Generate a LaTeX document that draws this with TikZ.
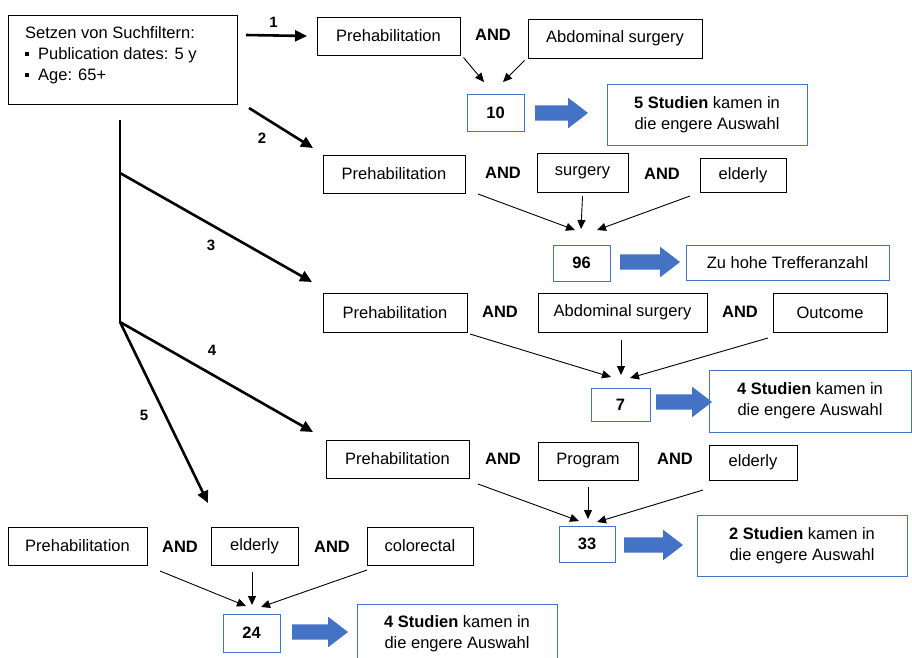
\documentclass[tikz,border=0pt]{standalone}
\usepackage{fontspec}
\setmainfont{Liberation Sans}
\usetikzlibrary{arrows.meta,shapes.arrows}
\definecolor{bl}{HTML}{4472C4}
\begin{document}
\begin{tikzpicture}[x=1pt,y=-1pt,
  every node/.style={font=\fontsize{16.5}{21}\selectfont, inner sep=0pt},
  tbox/.style={draw=black, line width=1pt},
  nbox/.style={draw=bl, line width=1pt, font=\fontsize{16.5}{21}\selectfont\bfseries},
  rbox/.style={draw=bl, line width=1pt, align=center},
  andlab/.style={font=\fontsize{16.5}{21}\selectfont\bfseries},
  numlab/.style={font=\fontsize{15}{18}\selectfont\bfseries},
  thin/.style={line width=0.9pt, -{Triangle[length=9pt,width=8pt]}},
  thick/.style={line width=2.6pt, -{Triangle[length=12pt,width=11pt]}},
  barrow/.style={single arrow, fill=bl, draw=none, inner xsep=0pt, inner ysep=7.5pt,
    minimum width=30pt, single arrow head extend=7.5pt, single arrow tip angle=75,
    shape border rotate=0}
]
\useasboundingbox (0,0) rectangle (912,657);
\fill[white] (0,0) rectangle (912,657);

% filter box
\node[tbox, minimum width=229pt, minimum height=89pt] (filt) at (122.5,59.5) {};
\node[anchor=north west, align=left] (filttxt) at (25,26) {Setzen von Suchfiltern:\\
\raisebox{3pt}{\rule{4pt}{4pt}}\hspace{9pt}Publication dates: 5 y\\
\raisebox{3pt}{\rule{4pt}{4pt}}\hspace{9pt}Age: 65+};

% trunk
\coordinate (t0) at (120,120);
\coordinate (t1) at (120,173);
\coordinate (t2) at (120,322);
\draw[line width=2.6pt] (t0) -- (t2);

% Row 1
\node[tbox, minimum width=143pt, minimum height=38pt] (p1) at (388.5,36) {Prehabilitation};
\node[andlab] (a1) at (493,35) {AND};
\node[tbox, minimum width=174pt, minimum height=39pt] (s1) at (615,38.5) {Abdominal surgery};
\node[nbox, minimum width=57pt, minimum height=37pt] (n1) at (495.5,112.5) {10};
\node[barrow, minimum height=53pt] (ba1) at (556.5,113) {};
\node[rbox, minimum width=200pt, minimum height=61pt] (r1) at (707,114.5) {\textbf{5 Studien} kamen in\\die engere Auswahl};
\coordinate (c1a) at (484,82);
\coordinate (c1b) at (503,82);
\draw[thin] ([shift={(3,2)}]p1.south east) -- (c1a);
\draw[thin] ([shift={(-3,2)}]s1.south west) -- (c1b);

% Row 2
\node[tbox, minimum width=142pt, minimum height=38pt] (p2) at (394,174) {Prehabilitation};
\node[andlab] (a2) at (503,173) {AND};
\node[tbox, minimum width=91pt, minimum height=39pt] (s2) at (582.5,172.5) {surgery};
\node[andlab] (a3) at (662,174) {AND};
\node[tbox, minimum width=86pt, minimum height=34pt] (e2) at (743,175) {elderly};
\node[nbox, minimum width=57pt, minimum height=36pt] (n2) at (581.5,263) {96};
\node[barrow, minimum height=60pt] (ba2) at (645,262) {};
\node[rbox, minimum width=203pt, minimum height=35pt] (r2) at (787.5,262.5) {Zu hohe Trefferanzahl};
\coordinate (c2a) at (575,230);
\coordinate (c2b) at (581,229);
\coordinate (c2c) at (597,230);
\draw[thin] (478,194) -- (c2a);
\draw[thin] (s2.south |- 0,196) -- (c2b);
\draw[thin] (690,196) -- (c2c);

% Row 3
\node[tbox, minimum width=144pt, minimum height=39pt] (p3) at (395,312.5) {Prehabilitation};
\node[andlab] (a4) at (500,312) {AND};
\node[tbox, minimum width=169pt, minimum height=39pt] (s3) at (622.5,312.5) {Abdominal surgery};
\node[andlab] (a5) at (740,312) {AND};
\node[tbox, minimum width=114pt, minimum height=39pt] (o3) at (830,312.5) {Outcome};
\node[nbox, minimum width=59pt, minimum height=33pt] (n3) at (620.5,404.5) {7};
\node[barrow, minimum height=56pt] (ba3) at (679,402) {};
\node[rbox, minimum width=202pt, minimum height=62pt] (r3) at (810,401) {\textbf{4 Studien} kamen in\\die engere Auswahl};
\coordinate (c3a) at (611,377);
\coordinate (c3b) at (621,375);
\coordinate (c3c) at (630,378);
\draw[thin] (470,334) -- (c3a);
\draw[thin] (621,340) -- (c3b);
\draw[thin] (768,338) -- (c3c);

% Row 4
\node[tbox, minimum width=143pt, minimum height=38pt] (p4) at (397.5,459) {Prehabilitation};
\node[andlab] (a6) at (503,459) {AND};
\node[tbox, minimum width=100pt, minimum height=38pt] (s4) at (588,461) {Program};
\node[andlab] (a7) at (675,459) {AND};
\node[tbox, minimum width=88pt, minimum height=35pt] (e4) at (753,462.5) {elderly};
\node[nbox, minimum width=56pt, minimum height=36pt] (n4) at (587,544) {33};
\node[barrow, minimum height=59pt] (ba4) at (648.5,545) {};
\node[rbox, minimum width=210pt, minimum height=61pt] (r4) at (802,545.5) {\textbf{2 Studien} kamen in\\die engere Auswahl};
\coordinate (c4a) at (579,521);
\coordinate (c4b) at (588,519);
\coordinate (c4c) at (597,522);
\draw[thin] (478,484) -- (c4a);
\draw[thin] (588,487) -- (c4b);
\draw[thin] (703,490) -- (c4c);

% Row 5
\node[tbox, minimum width=139pt, minimum height=38pt] (p5) at (77.5,546) {Prehabilitation};
\node[andlab] (a8) at (180,547) {AND};
\node[tbox, minimum width=87pt, minimum height=38pt] (e5) at (254.5,546) {elderly};
\node[andlab] (a9) at (332,547) {AND};
\node[tbox, minimum width=106pt, minimum height=38pt] (c5) at (420,546) {colorectal};
\node[nbox, minimum width=57pt, minimum height=38pt] (n5) at (251.5,633) {24};
\node[barrow, minimum height=56pt] (ba5) at (315,632) {};
\node[rbox, minimum width=200pt, minimum height=58pt] (r5) at (457,633.5) {\textbf{4 Studien} kamen in\\die engere Auswahl};
\coordinate (c5a) at (246,606);
\coordinate (c5b) at (252,605);
\coordinate (c5c) at (261,607);
\draw[thin] (160,571) -- (c5a);
\draw[thin] (252,572) -- (c5b);
\draw[thin] (367,570) -- (c5c);

% thick branch arrows
\coordinate (b1s) at (246,35);
\coordinate (b2s) at (249,108);
\draw[thick] (b1s) -- (p1.west -| 307,0) node[numlab, pos=0.45, above=7pt] (l1) {1};
\draw[thick] (b2s) -- (313,148);
\node[numlab] (l2) at (262,138) {2};
\draw[thick] (t1) -- (312,282);
\node[numlab] (l3) at (211,245) {3};
\draw[thick] (t2) -- (313,432);
\node[numlab] (l4) at (212,350) {4};
\draw[thick] (t2) -- (208,503);
\node[numlab] (l5) at (144,415) {5};
\end{tikzpicture}
\end{document}
